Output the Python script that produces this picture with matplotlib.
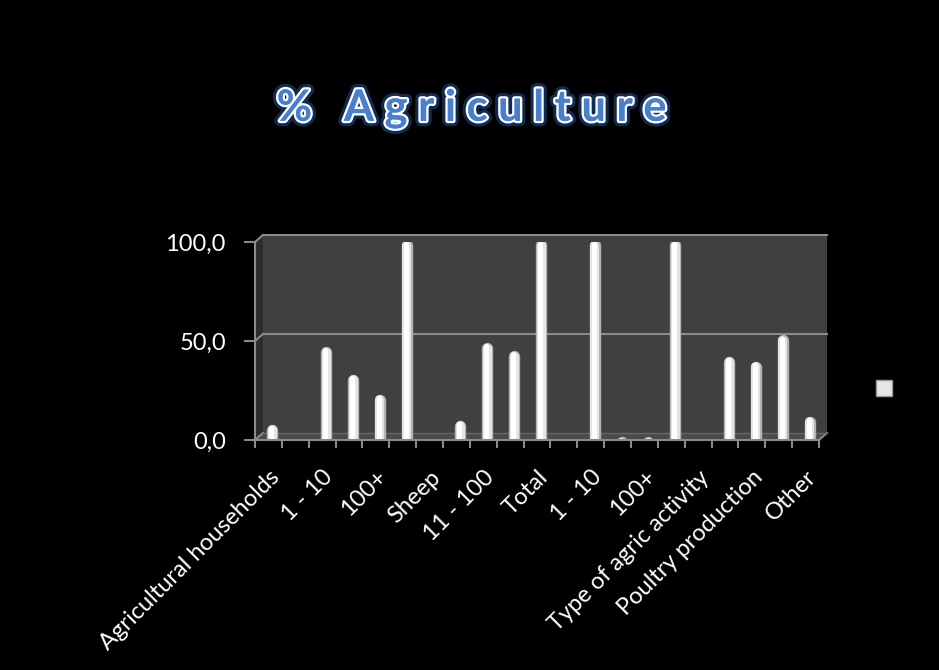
# % Agriculture: белые столбики-цилиндры на тёмном фоне
import matplotlib
matplotlib.use('Agg')
import matplotlib.pyplot as plt
import matplotlib.patheffects as pe
from matplotlib.patches import Polygon, Patch
from matplotlib.transforms import offset_copy

# Данные
n_cats = 21
values = [7, 0, 46, 32, 22, 100, 0, 9, 48, 44, 100, 0, 100, 0.5, 0.5, 100,
          0, 41, 38.5, 52, 11]
label_pos = [0, 2, 4, 6, 8, 10, 12, 14, 16, 18, 20]
labels = ['Agricultural households', '1 - 10', '100+', 'Sheep', '11 - 100',
          'Total', '1 - 10', '100+', 'Type of agric activity',
          'Poultry production', 'Other']
yticks = [0, 50, 100]
title = '% Agriculture'

W, H = 939, 670
fig = plt.figure(figsize=(W / 100, H / 100), dpi=100, facecolor='black')
plt.rcParams['font.family'] = ['Lato', 'DejaVu Sans']


def px(x, y):
    # пиксели картинки -> доли фигуры
    return (x / W, 1 - y / H)


def fig_line(p, q, **kw):
    a, b = px(*p), px(*q)
    ax.plot([a[0], b[0]], [a[1], b[1]], transform=fig.transFigure,
            clip_on=False, **kw)


# передняя рамка области построения
x0, x1, y_top, y_bot = 255, 819, 242, 440
dx, dy = 8, 7  # глубина "3D"
ax = fig.add_axes([x0 / W, 1 - y_bot / H, (x1 - x0) / W, (y_bot - y_top) / H])
ax.set_facecolor('none')
ax.set_xlim(-0.5, n_cats - 0.5)
ax.set_ylim(0, 100)

# задняя стенка, левая стенка и пол
back = offset_copy(ax.transAxes, fig=fig, x=dx, y=dy, units='dots')
ax.add_patch(plt.Rectangle((0, 0), 1, 1, transform=back, facecolor='#404040',
                           edgecolor='none', zorder=0, clip_on=False))
ax.add_patch(Polygon([px(x0, y_bot), px(x0, y_top), px(x0 + dx, y_top - dy),
                      px(x0 + dx, y_bot - dy)], closed=True,
                     transform=fig.transFigure, facecolor='#2c2c2c',
                     edgecolor='none', zorder=0, clip_on=False))
ax.add_patch(Polygon([px(x0, y_bot), px(x1, y_bot), px(x1 + dx, y_bot - dy),
                      px(x0 + dx, y_bot - dy)], closed=True,
                     transform=fig.transFigure, facecolor='#4a4a4a',
                     edgecolor='none', zorder=0.5, clip_on=False))
grid = dict(color='#8a8a8a', lw=1.5, zorder=0.6)
for v in yticks[1:]:
    ax.plot([0, 1], [v / 100, v / 100], transform=back, clip_on=False, **grid)
    yy = y_bot - (y_bot - y_top) * v / 100
    fig_line((x0, yy), (x0 + dx, yy - dy), **grid)
fig_line((x0, y_bot), (x0 + dx, y_bot - dy), **grid)
fig_line((x1, y_bot), (x1 + dx, y_bot - dy), **grid)
fig_line((x0 + dx, y_bot - dy), (x1 + dx, y_bot - dy), color='#666666',
         lw=1, zorder=0.6)

# столбики-цилиндры: несколько слоёв с закруглённым верхом (нулевые не рисуем)
unit_px = (y_bot - y_top) / 100
shift = 4 / ((x1 - x0) / n_cats)
xs = [i + shift for i, v in enumerate(values) if v > 0]
vals = [v for v in values if v > 0]
for lw, color, off in [(8.2, '#b4b4b4', 0), (6.4, '#e6e6e6', -0.015),
                       (3.6, '#ffffff', -0.035)]:
    r = lw * 100 / 72 / 2 / unit_px
    tops = [v - 0.6 * r for v in vals]
    ax.vlines([x + off for x in xs], -10, tops, colors=color, linewidth=lw,
              capstyle='round', zorder=3)

# оси
for s in ['top', 'right']:
    ax.spines[s].set_visible(False)
for s in ['left', 'bottom']:
    ax.spines[s].set_color('#8a8a8a')
    ax.spines[s].set_linewidth(1.5)
    ax.spines[s].set_zorder(4)
ax.set_yticks(yticks)
ax.set_yticklabels(['{:.1f}'.format(v).replace('.', ',') for v in yticks],
                   fontsize=17, color='white')
ax.tick_params(axis='y', length=8, width=1.5, color='#8a8a8a', pad=13)
ax.set_xticks([i - 0.5 for i in range(n_cats + 1)], minor=True)
ax.set_xticks(label_pos)
ax.set_xticklabels(labels, rotation=45, ha='right', rotation_mode='anchor',
                   fontsize=17, color='white')
ax.tick_params(axis='x', which='major', length=0, pad=19)
ax.tick_params(axis='x', which='minor', length=6, width=1.5, color='#8a8a8a')

# легенда без подписи
fig.legend(handles=[Patch(facecolor='#e6e6e6', edgecolor='#9a9a9a')],
           labels=[''], loc='center', bbox_to_anchor=px(884, 389),
           frameon=False, handlelength=0.8, handleheight=0.8, fontsize=15,
           handletextpad=0)

# заголовок с обводкой и свечением
fig.text(px(472, 108)[0], px(472, 108)[1], '\u2009\u200a\u200a'.join(title),
         ha='center', va='center', fontsize=31, fontweight='bold',
         color='#4a7fcf',
         path_effects=[pe.withStroke(linewidth=8, foreground='#1d4785', alpha=0.6),
                       pe.withStroke(linewidth=3.5, foreground='white'),
                       pe.Normal()])

plt.savefig('out.png', dpi=100, facecolor='black')
plt.close()
